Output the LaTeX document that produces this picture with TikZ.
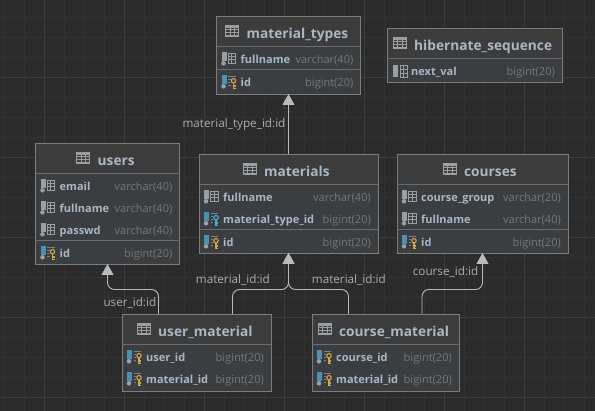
\documentclass[tikz,border=0pt]{standalone}
\usepackage{fontspec}
\setmainfont{Open Sans}
\usetikzlibrary{arrows.meta}
\definecolor{db-bg}{HTML}{2b2b2b}
\definecolor{db-minor}{HTML}{323232}
\definecolor{db-major}{HTML}{3d3d3d}
\definecolor{db-head}{HTML}{3c3c3c}
\definecolor{db-body}{HTML}{3a3e41}
\definecolor{db-border}{HTML}{7c7c7c}
\definecolor{db-sep}{HTML}{6a6c6e}
\definecolor{db-name}{HTML}{a9b7c6}
\definecolor{db-type}{HTML}{777777}
\definecolor{db-label}{HTML}{a8adb3}
\definecolor{db-line}{HTML}{bbbbbb}
\definecolor{db-icon}{HTML}{9a9fa3}
\definecolor{db-blue}{HTML}{4a91b5}
\definecolor{db-cyan}{HTML}{3fa9d0}
\definecolor{db-gold}{HTML}{d8a23f}
\tikzset{
    tablebox/.style={draw=db-border, line width=.9pt, fill=db-body, inner sep=0pt, outer sep=0pt,
        path picture={\fill[db-head] (path picture bounding box.north west) rectangle ([yshift=-30pt]path picture bounding box.north east);}},
    titletext/.style={anchor=west, inner sep=0pt, text height=10pt, text depth=3.5pt, text=db-name, font=\fontsize{13.7}{15}\selectfont\bfseries},
    rowname/.style={anchor=west, inner sep=0pt, text height=8pt, text depth=2.5pt, text=db-name, font=\fontsize{11}{12}\selectfont\bfseries},
    rowtype/.style={anchor=east, inner sep=0pt, text height=8pt, text depth=2.5pt, text=db-type, font=\fontsize{11}{12}\selectfont},
    rellabel/.style={anchor=west, inner sep=0pt, text height=8.5pt, text depth=2.5pt, text=db-label, font=\fontsize{11.7}{13}\selectfont},
    relline/.style={draw=db-line, line width=.9pt, rounded corners=7pt, -{Triangle[length=11pt,width=12pt]}},
    % small glyphs in front of the titles and columns
    tableicon/.pic={
        \draw[db-icon, line width=.7pt] (0,-5.5) rectangle (13,5.5);
        \fill[db-icon] (0,-5.5) rectangle (13,-2.5);
        \foreach \k in {0,3,6} \draw[db-icon, line width=.6pt] (0,\k-2.5+.5) -- (13,\k-2.5+.5);
        \draw[db-icon, line width=.6pt] (4.5,-5.5) -- (4.5,5.5) (8.8,-5.5) -- (8.8,5.5);
    },
    colgrid/.pic={
        \draw[db-icon, line width=.6pt] (11.5,-6) rectangle (19,4);
        \draw[db-icon, line width=.6pt] (11.5,-2.7) -- (19,-2.7) (11.5,.7) -- (19,.7) (15,-6) -- (15,4);
    },
    colicon/.pic={
        \fill[db-icon] (5,-7) rectangle (10,2);
        \fill[db-icon] (7,4.3) circle (2.3);
        \pic {colgrid};
    },
    plainicon/.pic={
        \fill[db-icon] (6,-6) rectangle (11,6);
        \begin{scope}[shift={(1.5,0)}]
            \draw[db-icon, line width=.6pt] (11.5,-6) rectangle (19,6);
            \draw[db-icon, line width=.6pt] (11.5,-2) -- (19,-2) (11.5,2) -- (19,2) (15,-6) -- (15,6);
        \end{scope}
    },
    fadegrid/.pic={
        \draw[db-icon!70!db-body, line width=.6pt] (11.5,-6) -- (19,-6) (11.5,-3) -- (14,-3) (11.5,0) -- (13.5,0) (11.5,3) -- (14,3);
    },
    keyglyph/.pic={
        \draw[#1, line width=1.1pt] (17,-1.3) circle (2.2);
        \draw[#1, line width=1.5pt] (17,.8) -- (17,7.2) (17,4) -- (19.2,4) (17,6.4) -- (19.2,6.4);
    },
    pkicon/.pic={
        \fill[db-blue] (5,-7) rectangle (10,2);
        \fill[db-icon] (7,4.3) circle (2.3);
        \pic {fadegrid};
        \pic {keyglyph=db-gold};
    },
    fkicon/.pic={
        \fill[db-blue] (5,-7) rectangle (10,2);
        \fill[db-icon] (7,4.3) circle (2.3);
        \pic {fadegrid};
        \pic {keyglyph=db-cyan};
    },
}
\begin{document}
\begin{tikzpicture}[x=1pt,y=-1pt]
\useasboundingbox (0,0) rectangle (595,411);
\fill[db-bg] (0,0) rectangle (595,411);

% grid
\foreach \k in {4,24,...,584} \draw[db-minor, line width=.8pt] (\k.5,0) -- (\k.5,411);
\foreach \k in {17,37,...,397} \draw[db-minor, line width=.8pt] (0,\k) -- (595,\k);
\foreach \k in {44,124,...,524} \draw[db-major, line width=.8pt] (\k.5,0) -- (\k.5,411);
\foreach \k in {77,157,...,397} \draw[db-major, line width=.8pt] (0,\k) -- (595,\k);

% tables: name/centre x/centre y/width/height/title x/title
\foreach \nm/\cx/\cy/\tw/\th/\tx/\title in {
    materialtypes/288.5/55/144/78/30/material\_types,
    hibernate/474.5/55/175/54/27/hibernate\_sequence,
    users/107.5/203.5/144/121/62/users,
    materials/288.5/203.5/179/99/65/materials,
    courses/482.5/203.5/171/99/67/courses,
    usermaterial/196.5/352.5/149/77/36/user\_material,
    coursematerial/385.5/352.5/147/77/27/course\_material} {
    \node[tablebox, minimum width=\tw pt, minimum height=\th pt] (\nm) at (\cx,\cy) {};
    \draw[db-sep, line width=.8pt] ([yshift=-30pt]\nm.north west) -- ([yshift=-30pt]\nm.north east);
    \pic at ([xshift=\tx pt-21pt, yshift=-15pt]\nm.north west) {tableicon};
    \node[titletext] (\nm-title) at ([xshift=\tx pt, yshift=-19pt]\nm.north west) {\title};
}

% lines above the key rows
\foreach \nm/\y in {materialtypes/69, users/240, materials/229.5, courses/229.5}
    \draw[db-sep, line width=.8pt] (\nm.west |- 0,\y) -- (\nm.east |- 0,\y);

% rows: table/y/icon/column/type
\foreach \tbl/\y/\ico/\col/\typ in {
    materialtypes/59/colicon/fullname/varchar(40),
    materialtypes/82/pkicon/id/bigint(20),
    hibernate/71/plainicon/next\_val/bigint(20),
    users/186/colicon/email/varchar(40),
    users/208/colicon/fullname/varchar(40),
    users/230/colicon/passwd/varchar(40),
    users/253/pkicon/id/bigint(20),
    materials/197/colicon/fullname/varchar(40),
    materials/219/fkicon/material\_type\_id/bigint(20),
    materials/242/pkicon/id/bigint(20),
    courses/197/colicon/course\_group/varchar(20),
    courses/219/colicon/fullname/varchar(40),
    courses/242/pkicon/id/bigint(20),
    usermaterial/357/pkicon/user\_id/bigint(20),
    usermaterial/379/pkicon/material\_id/bigint(20),
    coursematerial/357/pkicon/course\_id/bigint(20),
    coursematerial/379/pkicon/material\_id/bigint(20)} {
    \pic at (\tbl.west |- 0,\y) {\ico};
    \node[rowname, xshift=24pt, yshift=-1.5pt] (\tbl-\y-name) at (\tbl.west |- 0,\y) {\col};
    \node[rowtype, xshift=-7pt, yshift=-1.5pt] (\tbl-\y-type) at (\tbl.east |- 0,\y) {\typ};
}

% connectors
\coordinate (bend) at (0,289.5);
\draw[relline] (materials.north) -- (materialtypes.south);
\draw[relline] ([xshift=-38pt]usermaterial.north) |- (users.south |- bend) -- (users.south);
\draw[relline] ([xshift=36pt]usermaterial.north) |- (materials.south |- bend) -- (materials.south);
\draw[relline] ([xshift=-37pt]coursematerial.north) |- (materials.south |- bend) -- (materials.south);
\draw[relline] ([xshift=36.5pt]coursematerial.north) |- (courses.south |- bend) -- (courses.south);

\node[rellabel] (lbltype) at (182.3,125) {material\_type\_id:id};
\node[rellabel] (lbluser) at (103.3,303.5) {user\_id:id};
\node[rellabel] (lblmatleft) at (195.7,281) {material\_id:id};
\node[rellabel] (lblmatright) at (311.7,281) {material\_id:id};
\node[rellabel] (lblcourse) at (412.7,273) {course\_id:id};
\end{tikzpicture}
\end{document}
